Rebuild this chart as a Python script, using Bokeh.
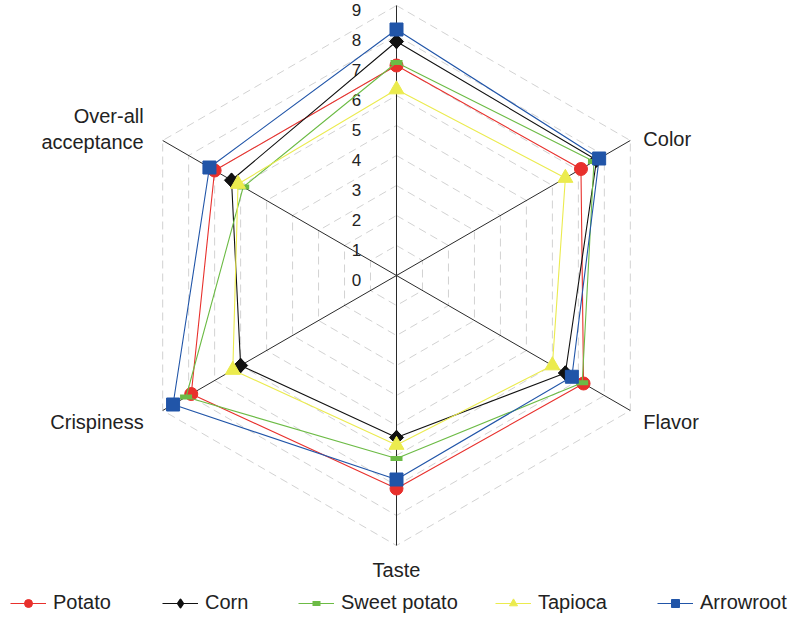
import numpy as np
from bokeh.plotting import figure
from bokeh.models import Legend, LegendItem
from bokeh.core.properties import value
from bokeh.embed import file_html
from bokeh.resources import INLINE

# ---------------- data ----------------
axis_names = ["", "Color", "Flavor", "Taste", "Crispiness", "Over-all acceptance"]
tick_values = [0, 1, 2, 3, 4, 5, 6, 7, 8, 9]
tick_labels = ["0", "1", "2", "3", "4", "5", "6", "7", "8", "9"]
series_names = ["Potato", "Corn", "Sweet potato", "Tapioca", "Arrowroot"]
potato = [7.0, 7.1, 7.2, 7.1, 7.9, 7.0]
corn = [7.8, 7.7, 6.5, 5.4, 6.0, 6.35]
sweet_potato = [7.1, 7.6, 7.15, 6.1, 8.1, 5.9]
tapioca = [6.2, 6.5, 6.0, 5.65, 6.3, 6.1]
arrowroot = [8.2, 7.8, 6.75, 6.8, 8.6, 7.2]
r_max = 9

# ---------------- styling ----------------
FONT = "Liberation Sans"
colors = ["#e8302c", "#111111", "#6cbb45", "#ebeb4e", "#2155a8"]
markers = ["circle", "square", "dash", "triangle", "square"]
msizes = [13, 10, 12, 15, 13]
mangles = [0, np.pi / 4, 0, 0, 0]
mlinew = [1, 1, 5, 1, 1]
legend_x = [10, 162, 298, 495, 657]

W, H = 791, 615
PX = 30.0  # pixels per unit
cx, cy = 396, 275  # centre in figure pixels

p = figure(width=W, height=H, output_backend="svg", toolbar_location=None,
           x_range=(-cx / PX, (W - cx) / PX), y_range=(-(H - cy) / PX, cy / PX),
           min_border=0, outline_line_color=None, background_fill_color="white")
p.xaxis.visible = False
p.yaxis.visible = False
p.grid.visible = False

n = len(axis_names)
theta = np.deg2rad(90 - 60 * np.arange(n))
cos_t, sin_t = np.cos(theta), np.sin(theta)

# grid hexagons
gx, gy = [], []
for lv in tick_values[1:]:
    gx.append(list(lv * np.append(cos_t, cos_t[0])))
    gy.append(list(lv * np.append(sin_t, sin_t[0])))
p.multi_line(gx, gy, line_color="#d2d2d2", line_width=1, line_dash="8 5")

# spokes
sx = [[0, r_max * c] for c in cos_t]
sy = [[0, r_max * s] for s in sin_t]
p.multi_line(sx, sy, line_color="#2a2a2a", line_width=1)

# tick labels
p.text(x=[0] * len(tick_values), y=tick_values, text=tick_labels,
       x_offset=-40, y_offset=4, text_align="center", text_baseline="middle",
       text_font=value(FONT), text_font_size="17px", text_color="#222222")

# category labels
lab_style = {
    "Color": ("left", 13, -2),
    "Flavor": ("left", 13, 11),
    "Taste": ("center", 0, 24),
    "Crispiness": ("right", -19, 11),
}
for i, name in enumerate(axis_names):
    if not name:
        continue
    ex, ey = r_max * cos_t[i], r_max * sin_t[i]
    if name == "Over-all acceptance":
        parts = ["Over-all", "acceptance"]
        offs = [-25, 1]
        for t, yo in zip(parts, offs):
            p.text(x=[ex], y=[ey], text=[t], x_offset=-19, y_offset=yo,
                   text_align="right", text_baseline="middle",
                   text_font=value(FONT), text_font_size="20px", text_color="#222222")
    else:
        al, xo, yo = lab_style[name]
        p.text(x=[ex], y=[ey], text=[name], x_offset=xo, y_offset=yo,
               text_align=al, text_baseline="middle",
               text_font=value(FONT), text_font_size="20px", text_color="#222222")

# series
all_series = [potato, corn, sweet_potato, tapioca, arrowroot]
for k, (name, vals, col) in enumerate(zip(series_names, all_series, colors)):
    v = np.array(vals)
    xs = v * cos_t
    ys = v * sin_t
    lr = p.line(list(np.append(xs, xs[0])), list(np.append(ys, ys[0])),
                line_color=col, line_width=1.1)
    leg_renderers = [lr]
    if mangles[k] != 0:
        # legend glyphs ignore marker angle: a diamond hidden under the rotated
        # squares provides the legend symbol
        proxy = p.scatter(list(xs), list(ys), marker="diamond", size=13,
                          fill_color=col, line_color=col, line_width=2,
                          line_join="round")
        leg_renderers.append(proxy)
    mr = p.scatter(list(xs), list(ys), marker=markers[k], size=msizes[k],
                   angle=mangles[k], fill_color=col, line_color=col,
                   line_width=mlinew[k])
    if mangles[k] == 0:
        leg_renderers.append(mr)
    leg = Legend(items=[LegendItem(label=name, renderers=leg_renderers)],
                 orientation="horizontal", location=(legend_x[k], 1),
                 label_text_font=FONT, label_text_font_size="20px",
                 label_text_color="#222222", glyph_width=36, glyph_height=20,
                 label_height=20, label_standoff=7, spacing=0, padding=0,
                 margin=0, border_line_color=None, background_fill_alpha=0)
    p.add_layout(leg, "center")

open("out.html", "w").write(file_html(p, INLINE))
